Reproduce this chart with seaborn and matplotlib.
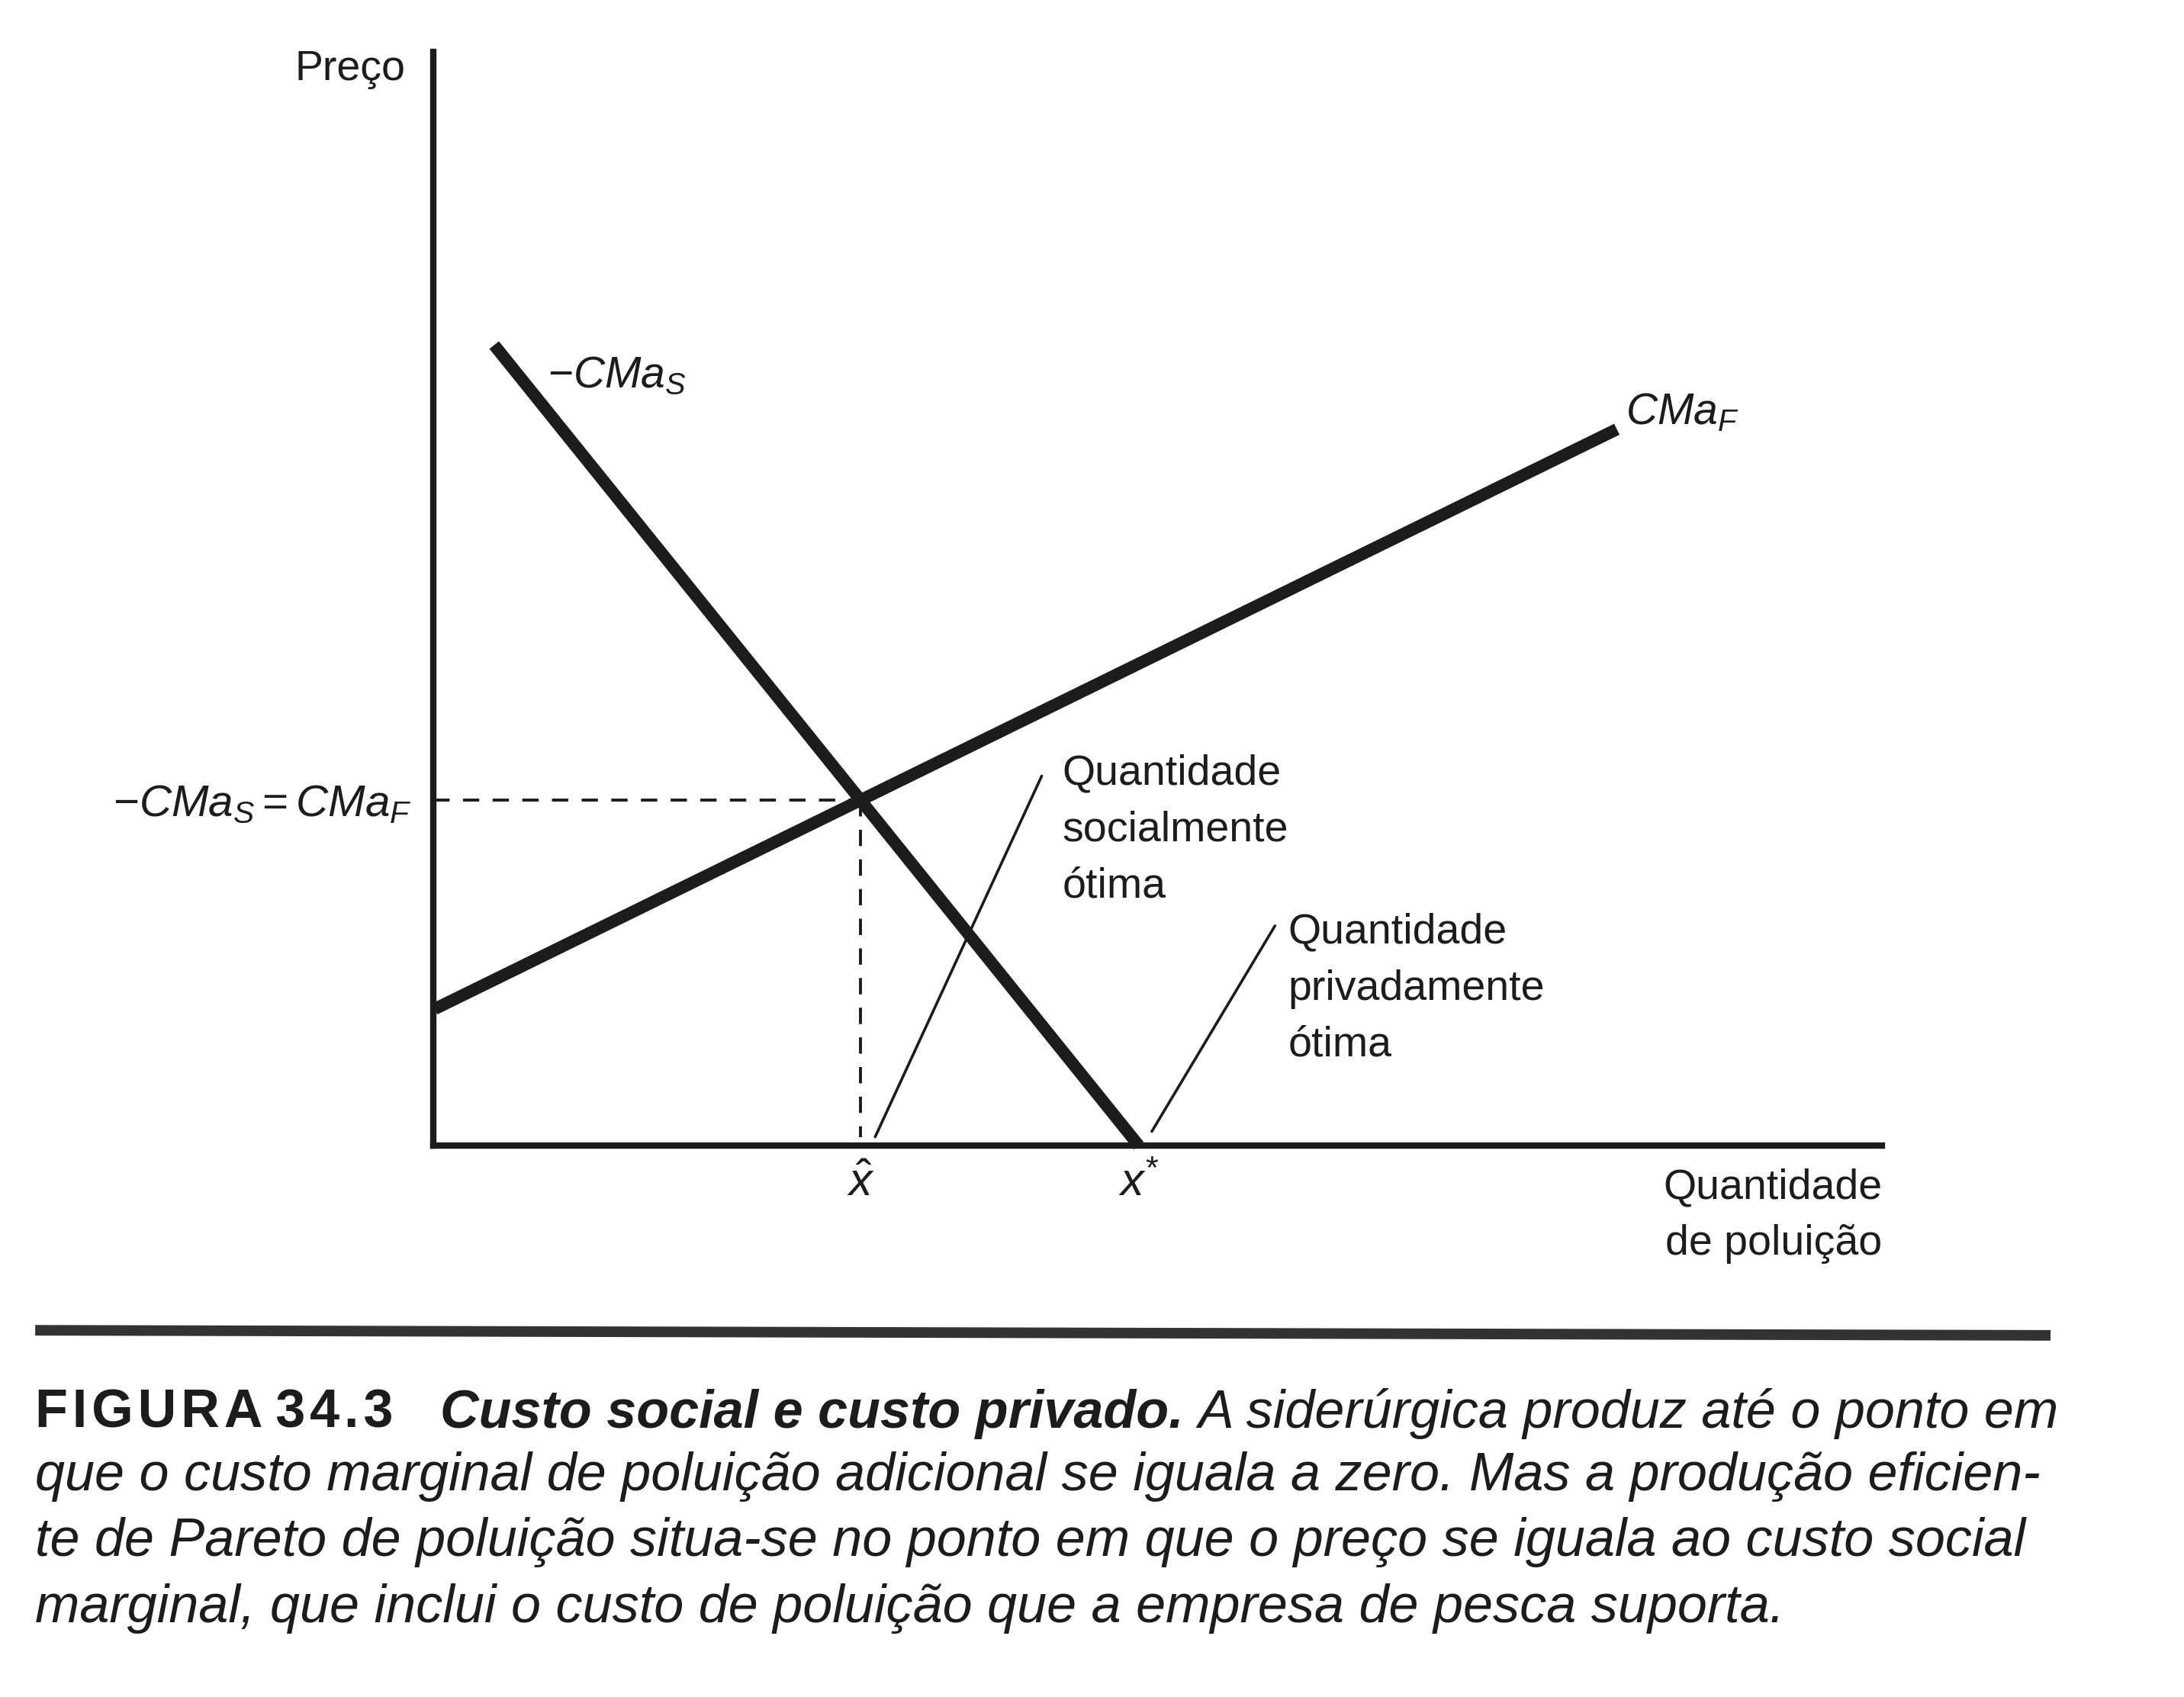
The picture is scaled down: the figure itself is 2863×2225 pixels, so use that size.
import numpy as np
import pandas as pd
import matplotlib
matplotlib.use('Agg')
import matplotlib.pyplot as plt
import seaborn as sns
from matplotlib.lines import Line2D
from matplotlib import font_manager

# both axes run 0..100 (quantity of pollution, price)
cmaf_q=[0.1,81.7]
cmaf_p=[12.5,65.5]
cmas_q=[4.2,48.7]
cmas_p=[73.2,0.0]
lead_soc_q=[30.5,42.0]
lead_soc_p=[0.8,33.8]
lead_priv_q=[49.6,58.1]
lead_priv_p=[1.3,20.1]
curve_names=['$-CMa_S$','$CMa_F$']
curve_label_q=[7.9,82.3]
curve_label_p=[69.3,66.0]
note_soc='Quantidade\nsocialmente\nótima'
note_priv='Quantidade\nprivadamente\nótima'
note_q=[43.4,59.0]
note_p=[22.7,8.2]   # baseline of the last line
eq_label='$-CMa_S = CMa_F$'
x_labels=['$\\hat{x}$','$x^{*}$']
caption_fig='FIGURA 34.3'
caption_title='Custo social e custo privado.'
caption_lines=['A siderúrgica produz até o ponto em',
               'que o custo marginal de poluição adicional se iguala a zero. Mas a produção eficien-',
               'te de Pareto de poluição situa-se no ponto em que o preço se iguala ao custo social',
               'marginal, que inclui o custo de poluição que a empresa de pesca suporta.']

names={f.name for f in font_manager.fontManager.ttflist}
narrow='Liberation Sans Narrow' if 'Liberation Sans Narrow' in names else 'Liberation Sans'

sns.set_style('white')
plt.rcParams['font.family']=[narrow,'DejaVu Sans']
plt.rcParams['mathtext.fontset']='custom'
plt.rcParams['mathtext.rm']=narrow
plt.rcParams['mathtext.it']=narrow+':italic'
plt.rcParams['mathtext.bf']=narrow+':bold'

ink='#1c1c1c'
fs=40
cap_fs=50.5

# slope/intercept of each line -> crossing point
sf=(cmaf_p[1]-cmaf_p[0])/(cmaf_q[1]-cmaf_q[0])
ss=(cmas_p[1]-cmas_p[0])/(cmas_q[1]-cmas_q[0])
bf=cmaf_p[0]-sf*cmaf_q[0]
bs=cmas_p[0]-ss*cmas_q[0]
q_hat=(bs-bf)/(sf-ss)
p_eq=bf+sf*q_hat
x_star=cmas_q[1]

df=pd.DataFrame({'q':cmas_q+cmaf_q,'p':cmas_p+cmaf_p,
                 'curve':[curve_names[0]]*2+[curve_names[1]]*2})

fig=plt.figure(figsize=(28.63,22.25),dpi=100)
ax=fig.add_axes([0.1984,0.3249,0.6633,0.6445])
sns.lineplot(data=df,x='q',y='p',hue='curve',palette={c:ink for c in curve_names},
             linewidth=11.5,legend=False,sort=False,estimator=None,ax=ax,
             solid_capstyle='butt',clip_on=False)
ax.plot([0,q_hat],[p_eq,p_eq],color=ink,lw=2.8,ls=(0,(5.5,4.5)),clip_on=False)
ax.plot([q_hat,q_hat],[p_eq,0.8],color=ink,lw=2.8,ls=(0,(5.5,4.5)),clip_on=False)
ax.plot(lead_soc_q,lead_soc_p,color=ink,lw=2.6,solid_capstyle='round')
ax.plot(lead_priv_q,lead_priv_p,color=ink,lw=2.6,solid_capstyle='round')

ax.set_xlim(0,100)
ax.set_ylim(0,100)
ax.set_xlabel('')
ax.set_ylabel('')
sns.despine(ax=ax)
for s in ['left','bottom']:
    ax.spines[s].set_linewidth(6)
    ax.spines[s].set_color(ink)
    ax.spines[s].set_capstyle('projecting')

ax.set_yticks([p_eq])
ax.set_yticklabels([eq_label])
ax.set_xticks([q_hat,x_star])
ax.set_xticklabels(x_labels)
ax.tick_params(axis='y',length=0,pad=20,labelsize=fs+2,colors=ink)
ax.tick_params(axis='x',length=0,pad=16,labelsize=fs+4,colors=ink)

for name,q,p in zip(curve_names,curve_label_q,curve_label_p):
    ax.text(q,p,name,fontsize=fs+1,color=ink,ha='left',va='baseline')
for note,q,p in zip([note_soc,note_priv],note_q,note_p):
    ax.text(q,p,note,fontsize=fs,color=ink,ha='left',va='baseline',linespacing=1.55)

ax.text(-0.019,0.974,'Preço',transform=ax.transAxes,fontsize=fs,color=ink,ha='right',va='baseline')
ax.text(1.0,-0.0997,'Quantidade\nde poluição',transform=ax.transAxes,fontsize=fs,color=ink,
        ha='right',va='baseline',linespacing=1.55)

# rule above the caption
fig.add_artist(Line2D([0.0161,0.9389],[0.2161,0.2131],transform=fig.transFigure,
                      color='#333333',lw=10,solid_capstyle='butt'))

base=[0.1587,0.1218,0.0831,0.0440]
tracked=' '.join('\u200a'.join(w) for w in caption_fig.split(' '))
t1=fig.text(0.0161,base[0],tracked,fontsize=cap_fs,fontweight='bold',
            family=['Liberation Sans','DejaVu Sans'],color=ink,va='baseline')
t2=plt.annotate(caption_title,xy=(1,base[0]),xycoords=(t1,'figure fraction'),
                xytext=(44,0),textcoords='offset points',fontsize=cap_fs,
                fontweight='bold',style='italic',color=ink,va='baseline',annotation_clip=False)
plt.annotate(caption_lines[0],xy=(1,base[0]),xycoords=(t2,'figure fraction'),
             xytext=(14,0),textcoords='offset points',fontsize=cap_fs,
             style='italic',color=ink,va='baseline',annotation_clip=False)
for line,b in zip(caption_lines[1:],base[1:]):
    fig.text(0.0161,b,line,fontsize=cap_fs,style='italic',color=ink,va='baseline')

fig.savefig('out.png',dpi=100,facecolor='white')
